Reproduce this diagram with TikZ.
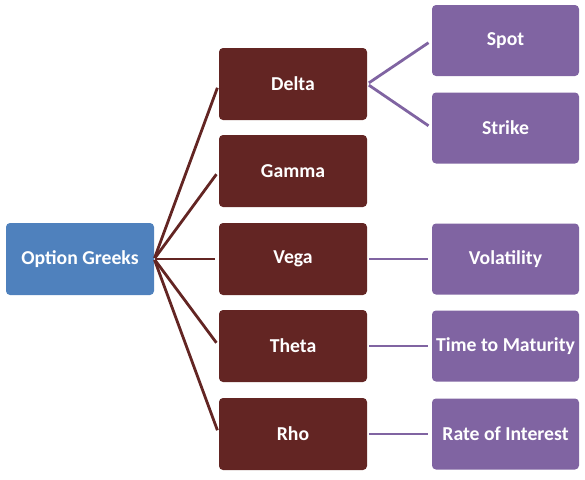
\documentclass[tikz,border=0pt]{standalone}
\usepackage{fontspec}
\setmainfont{Carlito}
\definecolor{cblue}{HTML}{4F81BD}
\definecolor{cbrown}{HTML}{632523}
\definecolor{cpurple}{HTML}{8064A2}
\begin{document}
\begin{tikzpicture}[x=1pt,y=-1pt,
  box/.style={rectangle,rounded corners=4pt,minimum width=148pt,minimum height=72pt,inner sep=0pt,text=white,font=\fontsize{19.7}{22}\selectfont\bfseries},
  rootbox/.style={box,fill=cblue},
  greekbox/.style={box,fill=cbrown},
  factorbox/.style={box,fill=cpurple,minimum width=147pt,minimum height=71pt},
  blink/.style={draw=cbrown,line width=2.8pt,shorten >=4pt,shorten <=1pt},
  plink/.style={draw=cpurple,line width=2.8pt,shorten >=4pt,shorten <=2pt}]
\useasboundingbox (0,0) rectangle (585,479);
\node[rootbox] (og) at (80,259) {Option Greeks};
\node[greekbox] (delta) at (293,84) {Delta};
\node[greekbox] (gamma) at (293,171) {Gamma};
\node[greekbox] (vega) at (293,259) {Vega};
\node[greekbox] (theta) at (293,346) {Theta};
\node[greekbox] (rho) at (293,434) {Rho};
\node[factorbox] (spot) at (505.5,40.5) {Spot};
\node[factorbox] (strike) at (505.5,128) {Strike};
\node[factorbox] (vol) at (505.5,259) {Volatility};
\node[factorbox] (ttm) at (505.5,346) {Time to Maturity};
\node[factorbox] (roi) at (505.5,434) {Rate of Interest};
\foreach \g in {delta,gamma,vega,theta,rho}
  \draw[blink] (og.east) -- (\g.west);
\draw[plink] (delta.east) -- (spot.west);
\draw[plink] (delta.east) -- (strike.west);
\draw[plink] (vega.east) -- (vol.west);
\draw[plink] (theta.east) -- (ttm.west);
\draw[plink] (rho.east) -- (roi.west);
\end{tikzpicture}
\end{document}
